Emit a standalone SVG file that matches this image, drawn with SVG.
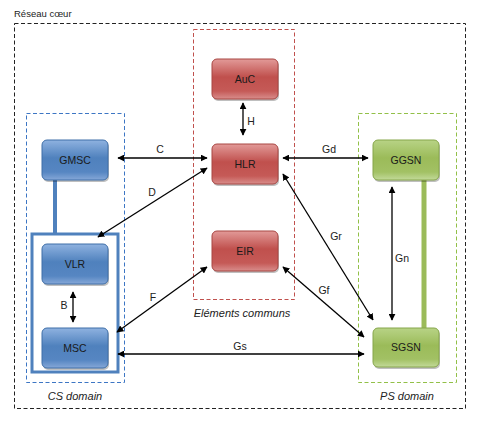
<svg xmlns="http://www.w3.org/2000/svg" width="480" height="421" viewBox="0 0 480 421">
<defs>
<linearGradient id="gRed" x1="0" y1="0" x2="0" y2="1">
<stop offset="0" stop-color="#e29a98"/><stop offset="0.45" stop-color="#c0504d"/><stop offset="0.8" stop-color="#c55a57"/><stop offset="1" stop-color="#d98e8c"/>
</linearGradient>
<linearGradient id="gBlue" x1="0" y1="0" x2="0" y2="1">
<stop offset="0" stop-color="#8fb2e0"/><stop offset="0.45" stop-color="#4f81bd"/><stop offset="0.8" stop-color="#5686c2"/><stop offset="1" stop-color="#86a8d8"/>
</linearGradient>
<linearGradient id="gGreen" x1="0" y1="0" x2="0" y2="1">
<stop offset="0" stop-color="#b8d386"/><stop offset="0.45" stop-color="#9bbb59"/><stop offset="0.8" stop-color="#a2c164"/><stop offset="1" stop-color="#c3da9a"/>
</linearGradient>
<marker id="ah" viewBox="0 0 10 10" refX="9" refY="5" markerWidth="7" markerHeight="7" markerUnits="userSpaceOnUse" orient="auto-start-reverse">
<path d="M0,0 L10,5 L0,10 z" fill="#000"/>
</marker>
<style>
.grp{fill:none;stroke-width:1;stroke-dasharray:4 2.5}
.node text{font-family:"Liberation Sans",Arial,sans-serif;font-size:10.5px;fill:#1a1a1a;text-anchor:middle}
.red rect{fill:url(#gRed);stroke:#a84643;stroke-width:1}
.blue rect{fill:url(#gBlue);stroke:#3f6fa8;stroke-width:1}
.green rect{fill:url(#gGreen);stroke:#86a64a;stroke-width:1}
.node rect.shadow{fill:#000;stroke:none;opacity:0.25}
.conn line{stroke:#000;stroke-width:1.3;marker-start:url(#ah);marker-end:url(#ah)}
.lbl{font-family:"Liberation Sans",Arial,sans-serif;font-size:10.5px;fill:#222;text-anchor:middle}
.cap{font-family:"Liberation Sans",Arial,sans-serif;font-size:11px;fill:#222;font-style:italic;text-anchor:middle}
</style>
</defs>
<rect width="480" height="421" fill="#fff"/>
<g id="groups">
<rect class="grp" x="14.5" y="23.5" width="451" height="385" stroke="#222"/>
<text x="14" y="17" font-family="Liberation Sans, Arial, sans-serif" font-size="9.5" fill="#222">Réseau cœur</text>
<rect class="grp" x="193.5" y="29.5" width="101" height="270" stroke="#c0504d"/>
<text class="cap" x="242" y="317">Eléments communs</text>
<rect class="grp" x="26.5" y="113.5" width="98" height="269" stroke="#3d76c4"/>
<text class="cap" x="75" y="400">CS domain</text>
<rect class="grp" x="358.5" y="113.5" width="98" height="269" stroke="#92c048"/>
<text class="cap" x="407" y="400">PS domain</text>
</g>
<g id="links">
<line x1="55" y1="180" x2="55" y2="234" stroke="#4f81bd" stroke-width="4"/>
<rect x="32" y="234" width="86" height="138" fill="none" stroke="#4f81bd" stroke-width="3"/>
<line x1="424" y1="180" x2="424" y2="328" stroke="#9bbb59" stroke-width="5"/>
</g>
<g id="connectors" class="conn">
<line x1="118" y1="158" x2="207" y2="158"/>
<line x1="207" y1="168" x2="98" y2="237"/>
<line x1="243" y1="103" x2="243" y2="135"/>
<line x1="283" y1="158" x2="368" y2="158"/>
<line x1="283" y1="174" x2="373" y2="320"/>
<line x1="283" y1="267" x2="364" y2="337"/>
<line x1="207" y1="267" x2="117" y2="332"/>
<line x1="73" y1="292" x2="73" y2="322"/>
<line x1="118" y1="354" x2="364" y2="354"/>
<line x1="392" y1="187" x2="392" y2="320"/>
</g>
<g id="labels">
<text class="lbl" x="160" y="153">C</text>
<text class="lbl" x="152" y="196">D</text>
<text class="lbl" x="251" y="125">H</text>
<text class="lbl" x="329" y="153">Gd</text>
<text class="lbl" x="336" y="240">Gr</text>
<text class="lbl" x="324" y="294">Gf</text>
<text class="lbl" x="153" y="301">F</text>
<text class="lbl" x="64" y="309">B</text>
<text class="lbl" x="240" y="350">Gs</text>
<text class="lbl" x="402" y="262">Gn</text>
</g>
<g id="AuC" class="node red"><rect class="shadow" x="213" y="61" width="66" height="40" rx="5"/><rect x="212" y="59" width="66" height="40" rx="5"/><text x="245" y="83">AuC</text></g>
<g id="HLR" class="node red"><rect class="shadow" x="213" y="146" width="66" height="40" rx="5"/><rect x="212" y="144" width="66" height="40" rx="5"/><text x="245" y="168">HLR</text></g>
<g id="EIR" class="node red"><rect class="shadow" x="213" y="233" width="66" height="40" rx="5"/><rect x="212" y="231" width="66" height="40" rx="5"/><text x="245" y="255">EIR</text></g>
<g id="GMSC" class="node blue"><rect class="shadow" x="43" y="142" width="66" height="40" rx="5"/><rect x="42" y="140" width="66" height="40" rx="5"/><text x="75" y="164">GMSC</text></g>
<g id="VLR" class="node blue"><rect class="shadow" x="43" y="246" width="66" height="40" rx="5"/><rect x="42" y="244" width="66" height="40" rx="5"/><text x="75" y="268">VLR</text></g>
<g id="MSC" class="node blue"><rect class="shadow" x="43" y="330" width="66" height="40" rx="5"/><rect x="42" y="328" width="66" height="40" rx="5"/><text x="75" y="352">MSC</text></g>
<g id="GGSN" class="node green"><rect class="shadow" x="374" y="142" width="66" height="40" rx="5"/><rect x="373" y="140" width="66" height="40" rx="5"/><text x="406" y="164">GGSN</text></g>
<g id="SGSN" class="node green"><rect class="shadow" x="374" y="330" width="66" height="39" rx="5"/><rect x="373" y="328" width="66" height="39" rx="5"/><text x="406" y="351">SGSN</text></g>
</svg>
